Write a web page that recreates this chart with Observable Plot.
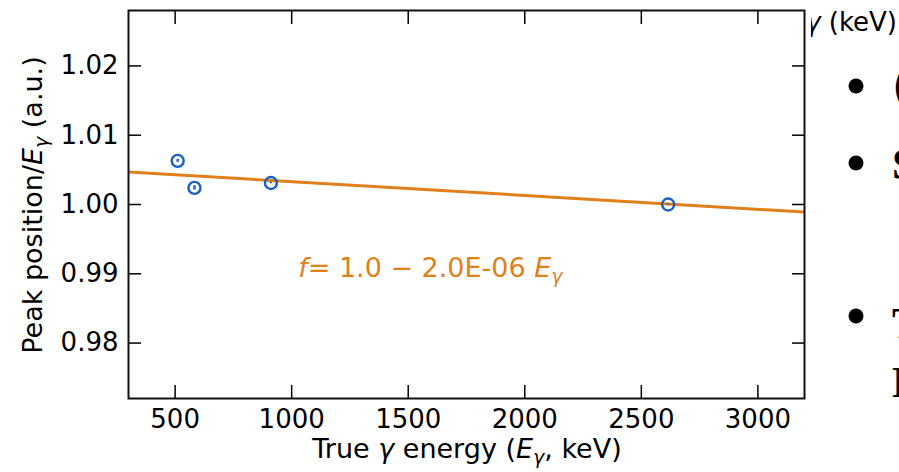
<!DOCTYPE html>
<html><head><meta charset="utf-8">
<script src="https://cdn.jsdelivr.net/npm/d3@7"></script>
<script src="https://cdn.jsdelivr.net/npm/@observablehq/plot@0.6"></script>
<style>
body{margin:0;background:#fff;}
#c{position:relative;width:899px;height:472px;overflow:hidden;}
</style>
</head><body><div id="c"></div>
<script>
// ---- data ----
const energies = [511, 583, 911, 2615];          // keV
const ratios   = [1.0063, 1.0024, 1.0031, 1.0000]; // peak position / E
const errors   = [0.0002, 0.0003, 0.0001, 0.0001];
const fitIntercept = 1.0053;
const fitSlope = -2.0e-6;
const fitRange = [300, 3200];
const xTicks = [500, 1000, 1500, 2000, 2500, 3000];
const yTicks = [0.98, 0.99, 1.00, 1.01, 1.02];
const xDomain = [300, 3200];
const yDomain = [0.972, 1.028];
const annotationPos = {e: 1030, r: 0.9895};
const bulletRows = [86, 163, 316];
const bulletGlyphs = ["(", "S", "T", "E"];

const BLUE = "#1a5fc2", ORANGE = "#e0801a";
const FONT = '"DejaVu Sans", sans-serif';

const points = energies.map((e, i) => ({e, r: ratios[i], err: errors[i]}));
const fit = fitRange.map(e => ({e, r: fitIntercept + fitSlope * e}));

const TS = -13;
const plot = Plot.plot({
  width: 899, height: 472,
  marginLeft: 128, marginRight: 95, marginTop: 10, marginBottom: 74,
  style: {fontFamily: FONT, fontSize: "26px", color: "#000", background: "#fff", overflow: "visible"},
  x: {domain: xDomain},
  y: {domain: yDomain},
  marks: [
    Plot.line(fit, {x: "e", y: "r", stroke: ORANGE, strokeWidth: 3, clip: true}),
    Plot.ruleX(points, {x: "e", y1: d => d.r - d.err, y2: d => d.r + d.err, stroke: BLUE, strokeWidth: 2.5}),
    Plot.dot(points, {x: "e", y: "r", r: 6, stroke: BLUE, strokeWidth: 2.4, fill: "none"}),
    Plot.axisX(xTicks, {anchor: "bottom", tickSize: TS, tickPadding: 24, tickFormat: d => String(d), label: null, strokeWidth: 1.5}),
    Plot.axisX(xTicks, {anchor: "top", tickSize: TS, tickFormat: () => "", label: null, strokeWidth: 1.5}),
    Plot.axisY(yTicks, {anchor: "left", tickSize: TS, tickPadding: 23, tickFormat: d => d.toFixed(2), label: null, strokeWidth: 1.5}),
    Plot.axisY(yTicks, {anchor: "right", tickSize: TS, tickFormat: () => "", label: null, strokeWidth: 1.5}),
    Plot.frame({stroke: "#111", strokeWidth: 2})
  ]
});
document.getElementById("c").appendChild(plot);

const svg = d3.select(plot);
const xs = plot.scale("x"), ys = plot.scale("y");

function rich(g, parts, size) {
  for (const p of parts) {
    const t = g.append("tspan").text(p.t);
    if (p.i) t.attr("font-style", "italic");
    if (p.sub) t.attr("font-size", size * 0.7).attr("dy", size * 0.22);
    if (p.up) t.attr("dy", -size * 0.22);
  }
}

// x axis label
const xl = svg.append("text").attr("x", 467).attr("y", 458).attr("text-anchor", "middle")
  .attr("font-family", FONT).attr("font-size", 27).attr("fill", "#000");
rich(xl, [{t: "True "}, {t: "γ", i: true}, {t: " energy ("}, {t: "E", i: true}, {t: "γ", i: true, sub: true}, {t: ", keV)", up: true}], 27);

// y axis label
const yl = svg.append("text").attr("transform", "translate(42,205) rotate(-90)").attr("text-anchor", "middle")
  .attr("font-family", FONT).attr("font-size", 27).attr("fill", "#000");
rich(yl, [{t: "Peak position/"}, {t: "E", i: true}, {t: "γ", i: true, sub: true}, {t: " (a.u.)", up: true}], 27);

// fit annotation
const an = svg.append("text").attr("x", xs.apply(annotationPos.e)).attr("y", ys.apply(annotationPos.r))
  .attr("text-anchor", "start")
  .attr("font-family", FONT).attr("font-size", 27).attr("fill", ORANGE);
rich(an, [{t: "f", i: true}, {t: "= 1.0 − 2.0E-06 "}, {t: "E", i: true}, {t: "γ", i: true, sub: true}], 27);

// cut-off slide content on the right
const defs = svg.append("defs");
defs.append("clipPath").attr("id", "rclip").append("rect").attr("x", 811).attr("y", 0).attr("width", 100).attr("height", 472);
const rg = svg.append("g").attr("clip-path", "url(#rclip)");
const kt = rg.append("text").attr("x", 897).attr("y", 31).attr("text-anchor", "end")
  .attr("font-family", FONT).attr("font-size", 26).attr("fill", "#000");
rich(kt, [{t: "γ", i: true}, {t: " (keV)"}], 26);
for (const y of bulletRows) rg.append("circle").attr("cx", 856).attr("cy", y).attr("r", 7.5).attr("fill", "#000");
const glyphY = [102, 179, 338, 397];
bulletGlyphs.forEach((g, i) => {
  rg.append("text").attr("x", 892).attr("y", glyphY[i]).attr("text-anchor", "start")
    .attr("font-family", i === 0 ? FONT : '"Liberation Serif", serif')
    .attr("font-weight", "bold").attr("font-size", 44).attr("fill", "#000").text(g);
});
</script>
</body></html>
